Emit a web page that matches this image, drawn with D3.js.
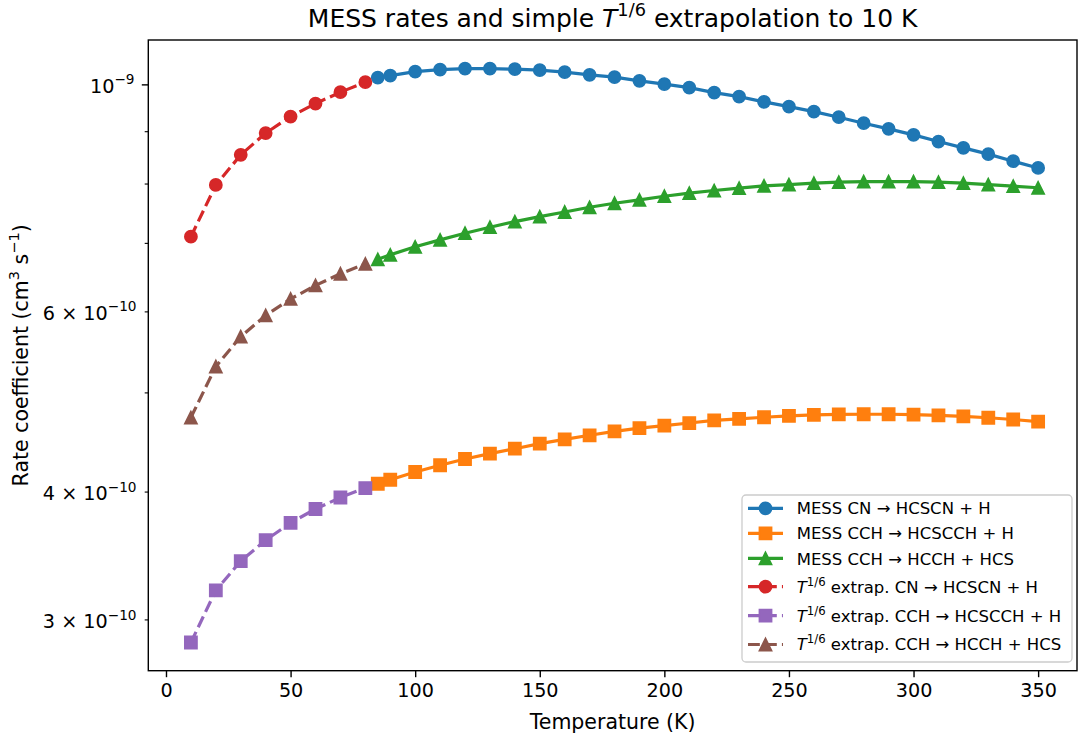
<!DOCTYPE html>
<html>
<head>
<meta charset="utf-8">
<script src="https://cdn.jsdelivr.net/npm/d3@7"></script>
<style>
  html, body { margin: 0; padding: 0; background: #fff; }
  svg { display: block; }
  text { font-family: "DejaVu Sans", sans-serif; fill: #000; }
</style>
</head>
<body>
<svg id="chart" width="1078" height="734"></svg>
<script>
// ---------------- DATA ----------------
const T_mess = [85, 90, 100, 110, 120, 130, 140, 150, 160, 170, 180, 190, 200, 210, 220,
                230, 240, 250, 260, 270, 280, 290, 300, 310, 320, 330, 340, 350];
const T_extrap = [10, 20, 30, 40, 50, 60, 70, 80];

const k_mess_cn_hcscn = [1.0154e-9, 1.0200e-9, 1.0292e-9, 1.0339e-9, 1.0362e-9, 1.0362e-9, 1.0348e-9,
  1.0325e-9, 1.0279e-9, 1.0216e-9, 1.0163e-9, 1.0079e-9, 1.0005e-9, 0.9928e-9, 0.9817e-9,
  0.9729e-9, 0.9614e-9, 0.9512e-9, 0.9406e-9, 0.9288e-9, 0.9163e-9, 0.9048e-9, 0.8926e-9,
  0.8793e-9, 0.8669e-9, 0.8547e-9, 0.8412e-9, 0.8286e-9];
const k_mess_cch_hcscch = [4.071e-10, 4.108e-10, 4.180e-10, 4.244e-10, 4.304e-10, 4.356e-10, 4.405e-10,
  4.455e-10, 4.499e-10, 4.540e-10, 4.581e-10, 4.613e-10, 4.640e-10, 4.667e-10, 4.694e-10,
  4.710e-10, 4.728e-10, 4.742e-10, 4.753e-10, 4.758e-10, 4.760e-10, 4.760e-10, 4.756e-10,
  4.749e-10, 4.738e-10, 4.723e-10, 4.704e-10, 4.681e-10];
const k_mess_cch_hcch = [6.745e-10, 6.814e-10, 6.938e-10, 7.047e-10, 7.154e-10, 7.251e-10, 7.343e-10,
  7.425e-10, 7.504e-10, 7.584e-10, 7.653e-10, 7.711e-10, 7.775e-10, 7.828e-10, 7.875e-10,
  7.918e-10, 7.959e-10, 7.982e-10, 8.007e-10, 8.025e-10, 8.036e-10, 8.036e-10, 8.036e-10,
  8.025e-10, 8.007e-10, 7.982e-10, 7.953e-10, 7.924e-10];
const k_ext_cn_hcscn = [7.098e-10, 7.975e-10, 8.533e-10, 8.961e-10, 9.301e-10, 9.577e-10, 9.826e-10, 10.050e-10];
const k_ext_cch_hcscch = [2.848e-10, 3.203e-10, 3.420e-10, 3.586e-10, 3.728e-10, 3.846e-10, 3.947e-10, 4.032e-10];
const k_ext_cch_hcch = [4.725e-10, 5.300e-10, 5.670e-10, 5.945e-10, 6.170e-10, 6.361e-10, 6.530e-10, 6.676e-10];

const xTicks = [0, 50, 100, 150, 200, 250, 300, 350];
const yMajorTicks = [1e-9];
const yMajorLabels = [["10", "\u22129"]];
const yMinorTicks = [3e-10, 4e-10, 5e-10, 6e-10, 7e-10, 8e-10, 9e-10];
const yMinorLabels = {"3e-10": ["3 \u00d7 10", "\u221210"], "4e-10": ["4 \u00d7 10", "\u221210"], "6e-10": ["6 \u00d7 10", "\u221210"]};

const seriesNames = ["MESS CN \u2192 HCSCN + H", "MESS CCH \u2192 HCSCCH + H", "MESS CCH \u2192 HCCH + HCS",
  " extrap. CN \u2192 HCSCN + H", " extrap. CCH \u2192 HCSCCH + H", " extrap. CCH \u2192 HCCH + HCS"];

// -------------- SETUP ----------------
const colors = ["#1f77b4", "#ff7f0e", "#2ca02c", "#d62728", "#9467bd", "#8c564b"];
const series = [
  {T: T_mess, k: k_mess_cn_hcscn, color: colors[0], marker: "circle", dashed: false, name: seriesNames[0], ext: false},
  {T: T_mess, k: k_mess_cch_hcscch, color: colors[1], marker: "square", dashed: false, name: seriesNames[1], ext: false},
  {T: T_mess, k: k_mess_cch_hcch, color: colors[2], marker: "triangle", dashed: false, name: seriesNames[2], ext: false},
  {T: T_extrap, k: k_ext_cn_hcscn, color: colors[3], marker: "circle", dashed: true, name: seriesNames[3], ext: true},
  {T: T_extrap, k: k_ext_cch_hcscch, color: colors[4], marker: "square", dashed: true, name: seriesNames[4], ext: true},
  {T: T_extrap, k: k_ext_cch_hcch, color: colors[5], marker: "triangle", dashed: true, name: seriesNames[5], ext: true}
];

const L = 148.3, R = 1077, Tp = 40, B = 670.7;
const x = d3.scaleLinear().domain([-7.1, 365.6]).range([L, R]);
const y = d3.scaleLog().domain([2.673e-10, 1.105e-9]).range([B, Tp]);

const svg = d3.select("#chart");
const LW = 3.2;
const MS = 12.2, MEW = 1.6;

function markerPath(type, s) {
  const h = s / 2;
  if (type === "square") return `M${-h},${-h}H${h}V${h}H${-h}Z`;
  return `M0,${-h}L${-h},${h}L${h},${h}Z`;
}
function drawMarker(g, type, cx, cy, color) {
  if (type === "circle") {
    g.append("circle").attr("cx", cx).attr("cy", cy).attr("r", MS / 2)
      .attr("fill", color).attr("stroke", color).attr("stroke-width", MEW);
  } else {
    g.append("path").attr("d", markerPath(type, MS)).attr("transform", `translate(${cx},${cy})`)
      .attr("fill", color).attr("stroke", color).attr("stroke-width", MEW).attr("stroke-linejoin", "miter");
  }
}

// clip
svg.append("defs").append("clipPath").attr("id", "clip")
  .append("rect").attr("x", L).attr("y", Tp).attr("width", R - L).attr("height", B - Tp);

const plot = svg.append("g").attr("clip-path", "url(#clip)");
const line = d3.line().x(d => x(d[0])).y(d => y(d[1]));

series.forEach(s => {
  const pts = s.T.map((t, i) => [t, s.k[i]]);
  plot.append("path").datum(pts).attr("d", line).attr("fill", "none")
    .attr("stroke", s.color).attr("stroke-width", LW)
    .attr("stroke-dasharray", s.dashed ? `${3.7 * LW},${1.6 * LW}` : null);
  const mg = plot.append("g");
  pts.forEach(p => drawMarker(mg, s.marker, x(p[0]), y(p[1]), s.color));
});

// axes frame
svg.append("rect").attr("x", L).attr("y", Tp).attr("width", R - L).attr("height", B - Tp)
  .attr("fill", "none").attr("stroke", "#000").attr("stroke-width", 1.4);

const FS = 19.2;   // tick labels
const FA = 20.5;   // axis labels
// x ticks
const xAxis = d3.axisBottom(x).tickValues(xTicks).tickSize(6.5).tickPadding(5.8).tickFormat(d3.format("d"));
const gx = svg.append("g").attr("transform", `translate(0,${B})`).call(xAxis);
gx.select(".domain").remove();
gx.selectAll(".tick line").attr("stroke", "#000").attr("stroke-width", 1.4);
gx.selectAll(".tick text").attr("font-size", FS).attr("font-family", "DejaVu Sans").attr("fill", "#000");

// y ticks (log)
const yAxisMaj = d3.axisLeft(y).tickValues(yMajorTicks).tickSize(6.5).tickFormat("");
const gyM = svg.append("g").attr("transform", `translate(${L},0)`).call(yAxisMaj);
gyM.select(".domain").remove();
gyM.selectAll(".tick line").attr("stroke", "#000").attr("stroke-width", 1.4);
const yAxisMin = d3.axisLeft(y).tickValues(yMinorTicks).tickSize(3.6).tickFormat("");
const gym = svg.append("g").attr("transform", `translate(${L},0)`).call(yAxisMin);
gym.select(".domain").remove();
gym.selectAll(".tick line").attr("stroke", "#000").attr("stroke-width", 1.1);

function supLabel(parent, xr, yb, base, sup, fs) {
  const t = parent.append("text").attr("x", xr).attr("y", yb).attr("text-anchor", "end").attr("font-size", fs);
  t.append("tspan").text(base);
  t.append("tspan").attr("font-size", fs * 0.71).attr("dy", -8.3).text(sup);
  return t;
}
yMajorTicks.forEach((v, i) => supLabel(svg, 134.5, y(v) + 8.4, yMajorLabels[i][0], yMajorLabels[i][1], FS));
yMinorTicks.forEach(v => {
  const key = v.toExponential(0).replace("+", "");
  const lab = yMinorLabels[key];
  if (lab) supLabel(svg, 136.5, y(v) + 8.4, lab[0], lab[1], FS);
});

// axis labels
svg.append("text").attr("x", (L + R) / 2).attr("y", 728.5).attr("text-anchor", "middle")
  .attr("font-size", FA).text("Temperature (K)");
const yl = svg.append("text").attr("transform", `translate(28,${(Tp + B) / 2}) rotate(-90)`)
  .attr("text-anchor", "middle").attr("font-size", FA);
yl.append("tspan").text("Rate coefficient (cm");
yl.append("tspan").attr("font-size", FA * 0.71).attr("dy", -8.6).text("3");
yl.append("tspan").attr("dy", 8.6).text(" s");
yl.append("tspan").attr("font-size", FA * 0.71).attr("dy", -8.6).text("\u22121");
yl.append("tspan").attr("dy", 8.6).text(")");

// title
const FT = 25;
const tt = svg.append("text").attr("x", (L + R) / 2).attr("y", 26.7).attr("text-anchor", "middle").attr("font-size", FT);
tt.append("tspan").text("MESS rates and simple ");
tt.append("tspan").attr("font-style", "italic").text("T");
tt.append("tspan").attr("font-size", FT * 0.71).attr("dy", -10.5).text("1/6");
tt.append("tspan").attr("dy", 10.5).text(" extrapolation to 10 K");

// legend
const lg = svg.append("g");
lg.append("rect").attr("x", 742).attr("y", 495).attr("width", 330).attr("height", 167)
  .attr("rx", 4).attr("fill", "#fff").attr("fill-opacity", 0.8)
  .attr("stroke", "#cccccc").attr("stroke-width", 1.3);
const FL = 16.5;
const baselines = [514.3, 539.3, 565, 592.7, 621.7, 650];
const markerY = [508.3, 533.3, 558.3, 586.7, 615.7, 644.5];
series.forEach((s, i) => {
  const my = markerY[i];
  lg.append("line").attr("x1", 748).attr("x2", 783).attr("y1", my).attr("y2", my)
    .attr("stroke", s.color).attr("stroke-width", LW)
    .attr("stroke-dasharray", s.dashed ? `${3.7 * LW},${1.6 * LW}` : null);
  drawMarker(lg, s.marker, 765.5, my, s.color);
  const t = lg.append("text").attr("x", 796.7).attr("y", baselines[i]).attr("font-size", FL);
  if (s.ext) {
    t.append("tspan").attr("font-style", "italic").text("T");
    t.append("tspan").attr("font-size", FL * 0.71).attr("dy", -7).text("1/6");
    t.append("tspan").attr("dy", 7).text(s.name);
  } else {
    t.text(s.name);
  }
});
</script>
</body>
</html>
